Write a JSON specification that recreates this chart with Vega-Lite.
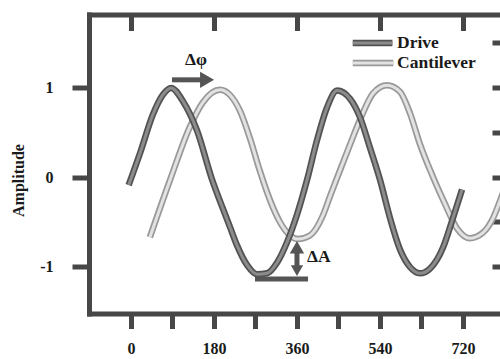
{
  "$schema": "https://vega.github.io/schema/vega-lite/v6.json",
  "width": 411,
  "height": 299,
  "autosize": "none",
  "padding": {"left": 89, "top": 14.5, "right": 0, "bottom": 45.5},
  "config": {"view": {"stroke": null}, "font": "Liberation Serif"},
  "datasets": {
    "waves": [
      {"series": "Drive", "phase": -5, "amp": -0.09},
      {"series": "Drive", "phase": 20, "amp": 0.27},
      {"series": "Drive", "phase": 48, "amp": 0.70},
      {"series": "Drive", "phase": 70, "amp": 0.92},
      {"series": "Drive", "phase": 87, "amp": 0.99},
      {"series": "Drive", "phase": 113, "amp": 0.84},
      {"series": "Drive", "phase": 143, "amp": 0.52},
      {"series": "Drive", "phase": 176, "amp": -0.03},
      {"series": "Drive", "phase": 200, "amp": -0.36},
      {"series": "Drive", "phase": 215, "amp": -0.56},
      {"series": "Drive", "phase": 230, "amp": -0.76},
      {"series": "Drive", "phase": 252, "amp": -0.98},
      {"series": "Drive", "phase": 273, "amp": -1.08},
      {"series": "Drive", "phase": 295, "amp": -1.07},
      {"series": "Drive", "phase": 317, "amp": -0.95},
      {"series": "Drive", "phase": 338, "amp": -0.73},
      {"series": "Drive", "phase": 360, "amp": -0.42},
      {"series": "Drive", "phase": 382, "amp": -0.03},
      {"series": "Drive", "phase": 403, "amp": 0.40},
      {"series": "Drive", "phase": 425, "amp": 0.77},
      {"series": "Drive", "phase": 447, "amp": 0.96},
      {"series": "Drive", "phase": 475, "amp": 0.87},
      {"series": "Drive", "phase": 497, "amp": 0.66},
      {"series": "Drive", "phase": 518, "amp": 0.33},
      {"series": "Drive", "phase": 540, "amp": -0.03},
      {"series": "Drive", "phase": 562, "amp": -0.46},
      {"series": "Drive", "phase": 583, "amp": -0.80},
      {"series": "Drive", "phase": 605, "amp": -1.0},
      {"series": "Drive", "phase": 627, "amp": -1.07},
      {"series": "Drive", "phase": 648, "amp": -1.02},
      {"series": "Drive", "phase": 677, "amp": -0.78},
      {"series": "Drive", "phase": 698, "amp": -0.46},
      {"series": "Drive", "phase": 718, "amp": -0.14},
      {"series": "Cantilever", "phase": 41, "amp": -0.67},
      {"series": "Cantilever", "phase": 85, "amp": -0.03},
      {"series": "Cantilever", "phase": 128, "amp": 0.56},
      {"series": "Cantilever", "phase": 156, "amp": 0.83},
      {"series": "Cantilever", "phase": 193, "amp": 0.97},
      {"series": "Cantilever", "phase": 215, "amp": 0.91},
      {"series": "Cantilever", "phase": 236, "amp": 0.74},
      {"series": "Cantilever", "phase": 258, "amp": 0.43},
      {"series": "Cantilever", "phase": 280, "amp": 0.06},
      {"series": "Cantilever", "phase": 301, "amp": -0.25},
      {"series": "Cantilever", "phase": 323, "amp": -0.50},
      {"series": "Cantilever", "phase": 345, "amp": -0.65},
      {"series": "Cantilever", "phase": 362, "amp": -0.69},
      {"series": "Cantilever", "phase": 388, "amp": -0.65},
      {"series": "Cantilever", "phase": 416, "amp": -0.43},
      {"series": "Cantilever", "phase": 432, "amp": -0.21},
      {"series": "Cantilever", "phase": 453, "amp": 0.07},
      {"series": "Cantilever", "phase": 475, "amp": 0.36},
      {"series": "Cantilever", "phase": 497, "amp": 0.64},
      {"series": "Cantilever", "phase": 525, "amp": 0.93},
      {"series": "Cantilever", "phase": 555, "amp": 1.02},
      {"series": "Cantilever", "phase": 583, "amp": 0.95},
      {"series": "Cantilever", "phase": 605, "amp": 0.71},
      {"series": "Cantilever", "phase": 627, "amp": 0.36},
      {"series": "Cantilever", "phase": 655, "amp": 0.0},
      {"series": "Cantilever", "phase": 681, "amp": -0.30},
      {"series": "Cantilever", "phase": 707, "amp": -0.57},
      {"series": "Cantilever", "phase": 735, "amp": -0.68},
      {"series": "Cantilever", "phase": 763, "amp": -0.62},
      {"series": "Cantilever", "phase": 785, "amp": -0.46},
      {"series": "Cantilever", "phase": 800, "amp": -0.27},
      {"series": "Cantilever", "phase": 812, "amp": -0.1}
    ],
    "keys": [
      {"series": "Drive", "phase": 481, "phase2": 567, "amp": 1.489},
      {"series": "Cantilever", "phase": 481, "phase2": 569, "amp": 1.267}
    ],
    "segs": [
      {"phase": 89, "phase2": 158, "amp": 1.08, "amp2": 1.08},
      {"phase": 360, "phase2": 360, "amp": -0.8, "amp2": -1.02},
      {"phase": 269, "phase2": 384, "amp": -1.133, "amp2": -1.133}
    ],
    "heads": [
      {"phase": 165, "amp": 1.08, "dir": "right"},
      {"phase": 360, "amp": -0.78, "dir": "up"},
      {"phase": 360, "amp": -1.04, "dir": "down"}
    ],
    "labels": [
      {"label": "Δφ", "phase": 117, "amp": 1.3},
      {"label": "ΔA", "phase": 382, "amp": -0.89},
      {"label": "Drive", "phase": 577, "amp": 1.489},
      {"label": "Cantilever", "phase": 577, "amp": 1.267}
    ]
  },
  "resolve": {"axis": {"x": "independent", "y": "independent"}},
  "layer": [
    {
      "data": {"name": "waves"},
      "transform": [{"filter": "datum.series === 'Cantilever'"}],
      "mark": {"type": "line", "interpolate": "monotone", "strokeWidth": 6.5, "clip": true},
      "encoding": {
        "x": {"field": "phase", "type": "quantitative", "scale": {"domain": [-91, 800.3], "nice": false, "zero": false}, "axis": null},
        "y": {"field": "amp", "type": "quantitative", "scale": {"domain": [-1.517, 1.806], "nice": false, "zero": false}, "axis": null},
        "color": {"field": "series", "type": "nominal", "scale": {"domain": ["Drive", "Cantilever"], "range": ["#525252", "#999999"]}, "legend": null}
      }
    },
    {
      "data": {"name": "waves"},
      "transform": [{"filter": "datum.series === 'Cantilever'"}],
      "mark": {"type": "line", "interpolate": "monotone", "strokeWidth": 3, "clip": true},
      "encoding": {
        "x": {"field": "phase", "type": "quantitative", "axis": null},
        "y": {"field": "amp", "type": "quantitative", "axis": null},
        "stroke": {"field": "series", "type": "nominal", "scale": {"domain": ["Drive", "Cantilever"], "range": ["#8c8c8c", "#e2e2e2"]}, "legend": null}
      }
    },
    {
      "data": {"name": "waves"},
      "transform": [{"filter": "datum.series === 'Drive'"}],
      "mark": {"type": "line", "interpolate": "monotone", "strokeWidth": 6.5},
      "encoding": {
        "x": {"field": "phase", "type": "quantitative",
          "axis": {"orient": "bottom", "values": [0, 90, 180, 270, 360, 450, 540, 630, 720],
            "labelExpr": "datum.value % 180 === 0 ? datum.label : ''",
            "tickSize": 15, "tickWidth": 5, "tickColor": "#474747",
            "domain": true, "domainWidth": 5, "domainColor": "#474747", "domainCap": "square",
            "labelFont": "Liberation Serif", "labelFontWeight": "bold", "labelFontSize": 16, "labelColor": "#1a1a1a",
            "labelPadding": 12, "labelFlush": false, "labelOverlap": false, "title": null, "grid": false}},
        "y": {"field": "amp", "type": "quantitative",
          "axis": {"orient": "left", "values": [-1, 0, 1],
            "labelExpr": "datum.value < 0 ? '-' + abs(datum.value) : datum.label",
            "tickSize": 17, "tickWidth": 5, "tickColor": "#474747",
            "domain": true, "domainWidth": 5, "domainColor": "#474747", "domainCap": "square",
            "labelFont": "Liberation Serif", "labelFontWeight": "bold", "labelFontSize": 16, "labelColor": "#1a1a1a",
            "labelPadding": 19, "labelFlush": false, "labelOverlap": false, "grid": false,
            "title": "Amplitude", "titleFont": "Liberation Serif", "titleFontWeight": "bold", "titleFontSize": 16, "titleColor": "#1a1a1a",
            "titleAngle": -90, "titleAlign": "center", "titleBaseline": "middle", "titleX": -70.5, "titleY": 165.5}},
        "color": {"field": "series", "type": "nominal", "legend": null}
      }
    },
    {
      "data": {"name": "waves"},
      "transform": [{"filter": "datum.series === 'Drive'"}],
      "mark": {"type": "line", "interpolate": "monotone", "strokeWidth": 3},
      "encoding": {
        "x": {"field": "phase", "type": "quantitative",
          "axis": {"orient": "top", "values": [0, 180, 360, 540, 720], "labels": false,
            "tickSize": -16, "tickWidth": 5, "tickColor": "#474747",
            "domain": true, "domainWidth": 5, "domainColor": "#474747", "domainCap": "square",
            "title": null, "grid": false}},
        "y": {"field": "amp", "type": "quantitative",
          "axis": {"orient": "right", "values": [-1, -0.5, 0, 0.5, 1, 1.5], "labels": false,
            "tickSize": -8, "tickWidth": 5, "tickColor": "#474747",
            "domain": false, "title": null, "grid": false}},
        "stroke": {"field": "series", "type": "nominal", "legend": null}
      }
    },
    {
      "data": {"name": "keys"},
      "mark": {"type": "rule", "strokeWidth": 6.5},
      "encoding": {
        "x": {"field": "phase", "type": "quantitative", "axis": null},
        "x2": {"field": "phase2"},
        "y": {"field": "amp", "type": "quantitative", "axis": null},
        "color": {"field": "series", "type": "nominal", "legend": null}
      }
    },
    {
      "data": {"name": "keys"},
      "mark": {"type": "rule", "strokeWidth": 3},
      "encoding": {
        "x": {"field": "phase", "type": "quantitative", "axis": null},
        "x2": {"field": "phase2"},
        "y": {"field": "amp", "type": "quantitative", "axis": null},
        "stroke": {"field": "series", "type": "nominal", "legend": null}
      }
    },
    {
      "data": {"name": "segs"},
      "mark": {"type": "rule", "strokeWidth": 5, "color": "#555555"},
      "encoding": {
        "x": {"field": "phase", "type": "quantitative", "axis": null},
        "x2": {"field": "phase2"},
        "y": {"field": "amp", "type": "quantitative", "axis": null},
        "y2": {"field": "amp2"}
      }
    },
    {
      "data": {"name": "heads"},
      "mark": {"type": "point", "filled": true, "opacity": 1, "color": "#555555"},
      "encoding": {
        "x": {"field": "phase", "type": "quantitative", "axis": null},
        "y": {"field": "amp", "type": "quantitative", "axis": null},
        "shape": {"field": "dir", "type": "nominal", "scale": {"domain": ["right", "up", "down"], "range": ["triangle-right", "triangle-up", "triangle-down"]}, "legend": null},
        "size": {"field": "dir", "type": "nominal", "scale": {"domain": ["right", "up", "down"], "range": [260, 150, 150]}, "legend": null}
      }
    },
    {
      "data": {"name": "labels"},
      "mark": {"type": "text", "align": "left", "baseline": "middle", "font": "Liberation Serif", "fontWeight": "bold", "fontSize": 17.5, "color": "#1a1a1a"},
      "encoding": {
        "x": {"field": "phase", "type": "quantitative", "axis": null},
        "y": {"field": "amp", "type": "quantitative", "axis": null},
        "text": {"field": "label", "type": "nominal"}
      }
    }
  ]
}
